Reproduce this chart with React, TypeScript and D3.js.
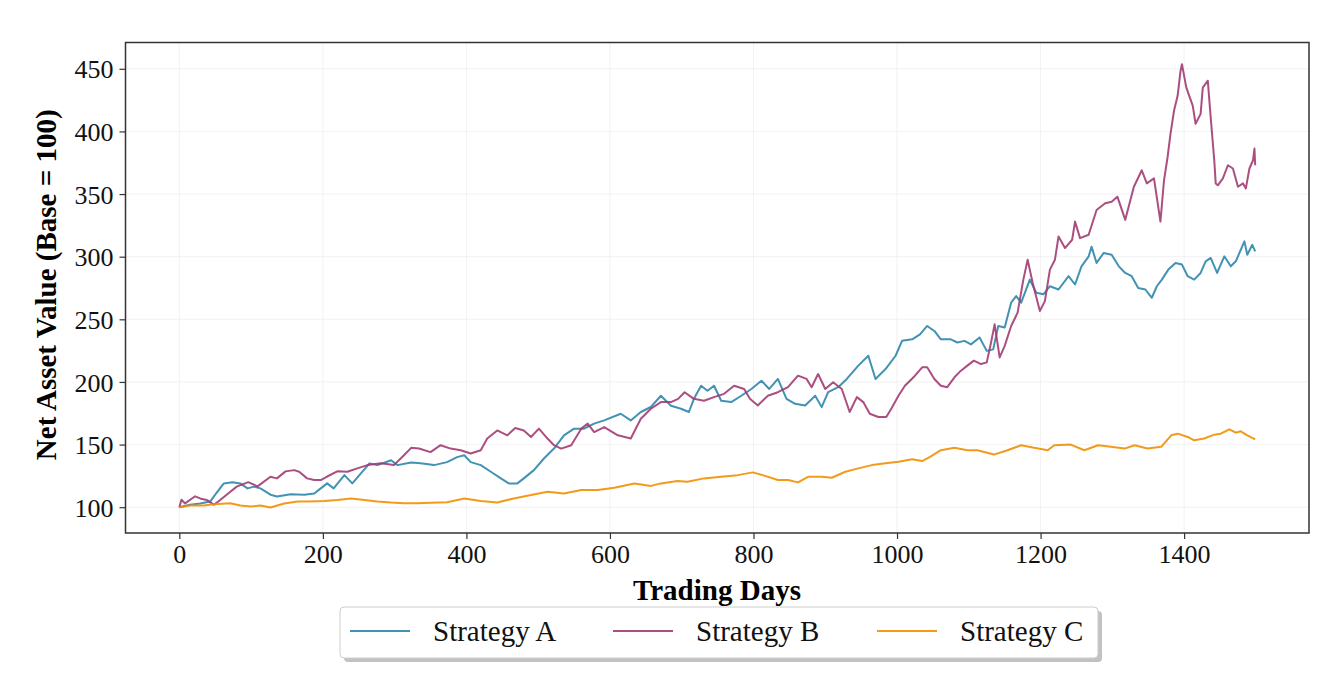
import React, { useRef, useEffect } from 'react';
import * as d3 from 'd3';

// values, [trading day] -> net asset value
const aDays = [0, 15, 29, 43, 50, 62, 74, 85, 95, 104, 113, 127, 136, 155, 174, 188, 197, 206, 215, 230, 241, 253, 265, 276, 295, 304, 323, 336, 355, 373, 387, 397, 406, 420, 434, 448, 459, 471, 480, 494, 508, 522, 536, 550, 564, 578, 592, 615, 629, 643, 657, 671, 685, 699, 710, 717, 727, 736, 745, 755, 769, 783, 797, 811, 822, 834, 846, 858, 872, 886, 895, 904, 918, 930, 946, 960, 970, 984, 998, 1007, 1021, 1032, 1042, 1052, 1061, 1075, 1084, 1094, 1103, 1115, 1125, 1134, 1141, 1150, 1159, 1166, 1173, 1185, 1194, 1204, 1213, 1225, 1239, 1248, 1257, 1267, 1271, 1278, 1288, 1299, 1309, 1318, 1327, 1336, 1346, 1355, 1362, 1369, 1378, 1388, 1397, 1405, 1414, 1423, 1430, 1437, 1446, 1456, 1465, 1472, 1484, 1488, 1495, 1499];
const aValues = [100, 102, 103, 104.5, 110, 119, 120, 119, 115, 116.4, 115, 110, 108.5, 110.3, 110, 111, 115, 119, 115, 125.6, 119, 127, 135, 133.6, 137.5, 133.6, 135.7, 135, 133.6, 136, 140, 141.5, 136, 133.6, 128.3, 123, 119, 119, 123, 129.6, 138.9, 146.8, 157.4, 162.7, 162.7, 166.7, 169.3, 174.6, 169.3, 176, 180, 189, 181, 178.6, 176, 186.5, 197, 193, 197, 185, 183.9, 189, 194.4, 201, 194.4, 202.4, 186.5, 182.5, 181.2, 189, 179.9, 191.8, 195.8, 202.4, 213, 220.9, 202.4, 210.3, 220.9, 232.8, 234, 238, 244.7, 240.7, 234, 234, 231.5, 232.8, 230, 235.5, 224.8, 226, 244.7, 243.4, 263.3, 268.5, 263.3, 281.7, 271.2, 270, 276.4, 273.8, 284.4, 277.8, 292.3, 300.2, 308, 295, 303, 301.6, 292.3, 287, 284.4, 275, 273.8, 267.2, 276.4, 281.7, 289.7, 295, 293.7, 284.4, 281.7, 287, 296.3, 299, 287, 300.3, 292.3, 296.3, 312.2, 301.6, 309.5, 304.2];

const bDays = [0, 3, 8, 22, 29, 38, 48, 57, 68, 80, 96, 109, 127, 136, 148, 160, 167, 178, 188, 197, 206, 220, 234, 248, 262, 281, 299, 313, 323, 334, 350, 364, 378, 392, 406, 420, 429, 443, 457, 468, 480, 490, 501, 513, 522, 532, 546, 560, 569, 578, 592, 611, 629, 643, 657, 671, 685, 695, 704, 717, 731, 745, 759, 773, 787, 795, 806, 820, 834, 848, 862, 874, 881, 890, 900, 911, 923, 934, 944, 953, 962, 974, 985, 992, 1002, 1011, 1025, 1035, 1042, 1052, 1061, 1070, 1080, 1089, 1098, 1107, 1117, 1125, 1131, 1136, 1143, 1150, 1159, 1168, 1176, 1182, 1189, 1199, 1206, 1213, 1220, 1225, 1234, 1244, 1248, 1255, 1267, 1278, 1290, 1299, 1307, 1318, 1330, 1341, 1348, 1358, 1367, 1372, 1377, 1381, 1386, 1391, 1395, 1397, 1403, 1407, 1412, 1416, 1423, 1426, 1433, 1437, 1442, 1444, 1447, 1454, 1461, 1468, 1475, 1482, 1486, 1491, 1496, 1498, 1499];
const bValues = [100, 106, 103, 108.7, 107, 105.8, 102, 105.8, 111, 116.4, 120, 116.6, 124.3, 123, 128.6, 129.6, 128.3, 123, 121.7, 121.7, 124.5, 128.6, 128.3, 131, 133.6, 135, 133.6, 141.5, 147.4, 146.8, 144, 149.5, 146.8, 145.5, 142.9, 145.5, 154.8, 161.3, 157.4, 163.2, 161.3, 156, 162.7, 154.8, 149.5, 146.8, 149.5, 162.7, 166.7, 160, 164, 157.4, 154.8, 170.6, 178.6, 183.9, 183.9, 186.5, 191.8, 186.5, 185, 187.9, 190.5, 197, 194.4, 186.5, 181.2, 189, 191.8, 195.8, 205, 202.4, 195.8, 206.3, 194.4, 199.8, 194.4, 176, 187.9, 183.9, 174.6, 172, 172, 178.6, 189, 197, 205, 211.7, 211.7, 202.4, 197, 195.8, 203.7, 209, 213, 217, 214.3, 215.6, 231.5, 246, 219.6, 228.8, 244.7, 255.3, 281.7, 297.6, 279, 256.6, 264.5, 289.7, 297.6, 316.1, 306.9, 313.5, 328, 314.8, 317.5, 337.3, 342.6, 343.9, 347.9, 329.4, 355.8, 369, 358.5, 362.5, 328, 361, 379.6, 398, 416.7, 428.6, 448.4, 453.7, 435.2, 428.6, 420.6, 406.1, 414, 435, 440.5, 411.4, 377, 358.5, 357, 362.5, 373, 370.4, 355.8, 358.5, 354.5, 370.4, 377, 386.3, 373];

const cDays = [0, 15, 34, 48, 71, 85, 99, 113, 127, 146, 165, 179, 202, 220, 239, 258, 276, 295, 313, 332, 351, 373, 397, 420, 443, 466, 490, 513, 536, 560, 583, 606, 634, 657, 671, 694, 708, 731, 755, 778, 799, 815, 834, 848, 862, 876, 895, 909, 928, 946, 965, 984, 1002, 1021, 1035, 1046, 1061, 1080, 1098, 1112, 1135, 1154, 1173, 1191, 1210, 1219, 1242, 1261, 1280, 1298, 1317, 1331, 1349, 1368, 1382, 1391, 1405, 1414, 1428, 1442, 1451, 1463, 1472, 1479, 1488, 1499];
const cValues = [100, 101.3, 101.3, 102.4, 103.2, 101.3, 100.5, 101.3, 99.7, 103, 104.5, 104.5, 105, 105.8, 107, 105.8, 104.5, 103.7, 103.2, 103.2, 103.5, 104, 107, 105, 103.7, 107, 109.8, 112.4, 111, 113.7, 113.7, 115.6, 119, 117, 119, 120.9, 120.4, 123, 124.3, 125.6, 127.8, 125.2, 121.7, 121.7, 119.8, 124.3, 124.3, 123.5, 128.3, 131, 133.6, 135, 136.3, 138.3, 136.8, 140.2, 145.5, 147.4, 145.5, 145.5, 142, 145.5, 149.5, 147.4, 145.5, 149.5, 150, 145.5, 149.5, 148.2, 146.8, 149.5, 146.8, 148.2, 157.4, 158.7, 156.1, 153.4, 154.8, 157.9, 158.7, 162.2, 159.5, 160.6, 157.4, 154.2];

const seriesNames = ['Strategy A', 'Strategy B', 'Strategy C'];
const seriesColors = ['#2E86AB', '#A23B72', '#F18F01'];
const xTicks = [0, 200, 400, 600, 800, 1000, 1200, 1400];
const yTicks = [100, 150, 200, 250, 300, 350, 400, 450];

const W = 1331;
const H = 686;
const FONT = '"Liberation Serif", "Times New Roman", serif';

const App: React.FC = () => {
  const svgRef = useRef<SVGSVGElement | null>(null);

  useEffect(() => {
    if (!svgRef.current) return;
    const svg = d3.select(svgRef.current);
    svg.selectAll('*').remove();

    const left = 125.5, right = 1309, top = 42.5, bottom = 533;

    const x = d3.scaleLinear().domain([-75, 1574]).range([left, right]);
    const y = d3.scaleLinear().domain([79.4, 471]).range([bottom, top]);

    // faint grid
    const grid = svg.append('g');
    grid.selectAll('line.gx')
      .data(xTicks)
      .enter()
      .append('line')
      .attr('x1', d => x(d)).attr('x2', d => x(d))
      .attr('y1', top).attr('y2', bottom)
      .attr('stroke', '#e6e6e6').attr('stroke-width', 0.8).attr('opacity', 0.6);
    grid.selectAll('line.gy')
      .data(yTicks)
      .enter()
      .append('line')
      .attr('x1', left).attr('x2', right)
      .attr('y1', d => y(d)).attr('y2', d => y(d))
      .attr('stroke', '#e6e6e6').attr('stroke-width', 0.8).attr('opacity', 0.6);

    const series = [
      { days: aDays, values: aValues },
      { days: bDays, values: bValues },
      { days: cDays, values: cValues },
    ];

    const line = d3.line<[number, number]>()
      .x(d => x(d[0]))
      .y(d => y(d[1]));

    series.forEach((s, k) => {
      const pts = s.days.map((d, i) => [d, s.values[i]] as [number, number]);
      svg.append('path')
        .datum(pts)
        .attr('fill', 'none')
        .attr('stroke', seriesColors[k])
        .attr('stroke-width', 2)
        .attr('stroke-opacity', 0.9)
        .attr('stroke-linejoin', 'round')
        .attr('d', line);
    });

    // axes
    const xAxis = svg.append('g')
      .attr('transform', `translate(0, ${bottom})`)
      .call(d3.axisBottom(x).tickValues(xTicks).tickSize(6).tickPadding(6).tickFormat(d3.format('d')));
    const yAxis = svg.append('g')
      .attr('transform', `translate(${left}, 0)`)
      .call(d3.axisLeft(y).tickValues(yTicks).tickSize(6).tickPadding(6).tickFormat(d3.format('d')));
    [xAxis, yAxis].forEach(g => {
      g.select('.domain').remove();
      g.selectAll('line').attr('stroke', '#333').attr('stroke-width', 1.2);
      g.selectAll('text')
        .attr('fill', '#111')
        .style('font-family', FONT)
        .style('font-size', '26px');
    });
    yAxis.selectAll('text').attr('dy', '0.35em');

    // frame
    svg.append('rect')
      .attr('x', left).attr('y', top)
      .attr('width', right - left).attr('height', bottom - top)
      .attr('fill', 'none').attr('stroke', '#333').attr('stroke-width', 1.5);

    // axis labels
    svg.append('text')
      .attr('x', 717).attr('y', 600)
      .attr('text-anchor', 'middle')
      .style('font-family', FONT).style('font-size', '29px').style('font-weight', 'bold')
      .text('Trading Days');
    svg.append('text')
      .attr('transform', `translate(56, ${(top + bottom) / 2 - 3}) rotate(-90)`)
      .attr('text-anchor', 'middle')
      .style('font-family', FONT).style('font-size', '29px').style('font-weight', 'bold')
      .text('Net Asset Value (Base = 100)');

    // legend
    const lx = 340, ly = 607, lw = 758, lh = 51;
    svg.append('rect')
      .attr('x', lx + 4).attr('y', ly + 4).attr('width', lw).attr('height', lh)
      .attr('rx', 4).attr('fill', '#999').attr('opacity', 0.6);
    svg.append('rect')
      .attr('x', lx).attr('y', ly).attr('width', lw).attr('height', lh)
      .attr('rx', 4).attr('fill', '#fff').attr('stroke', '#ccc').attr('stroke-width', 1);

    const itemX = [350, 613, 877];
    seriesNames.forEach((name, k) => {
      const g = svg.append('g');
      g.append('line')
        .attr('x1', itemX[k]).attr('x2', itemX[k] + 60)
        .attr('y1', ly + 24).attr('y2', ly + 24)
        .attr('stroke', seriesColors[k]).attr('stroke-width', 2).attr('stroke-opacity', 0.9);
      g.append('text')
        .attr('x', itemX[k] + 83).attr('y', ly + 34)
        .style('font-family', FONT).style('font-size', '29px')
        .attr('fill', '#111')
        .text(name);
    });
  }, []);

  return (
    <svg
      ref={svgRef}
      width={W}
      height={H}
      style={{ position: 'absolute', left: 0, top: 0, background: '#fff' }}
    />
  );
};

export default App;
